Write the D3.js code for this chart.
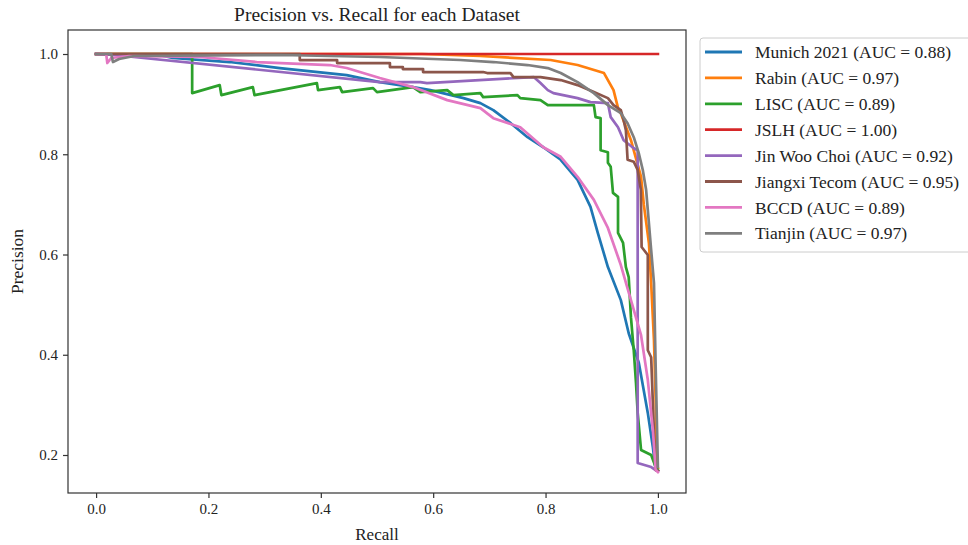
<!DOCTYPE html>
<html>
<head>
<meta charset="utf-8">
<script src="https://cdn.jsdelivr.net/npm/d3@7"></script>
<style>
  body { margin: 0; background: #fff; }
  text { font-family: "Liberation Serif", "DejaVu Serif", serif; fill: #222; }
</style>
</head>
<body>
<script>
// series: [recall, precision] pairs
var munich = [[0,1],[0.1125,0.998],[0.136,0.992],[0.2375,0.984],[0.327,0.972],[0.446,0.958],[0.505,0.944],[0.564,0.934],[0.595,0.928],[0.654,0.912],[0.684,0.902],[0.707,0.888],[0.738,0.862],[0.768,0.834],[0.796,0.814],[0.827,0.789],[0.857,0.749],[0.880,0.695],[0.893,0.643],[0.911,0.575],[0.934,0.509],[0.948,0.443],[0.966,0.384],[0.982,0.284],[0.991,0.216],[0.996,0.170],[1.0,0.168]];
var rabin = [[0,1],[0.58,1.0],[0.684,0.996],[0.809,0.988],[0.857,0.978],[0.904,0.962],[0.921,0.928],[0.930,0.888],[0.934,0.882],[0.952,0.828],[0.970,0.755],[0.975,0.699],[0.984,0.623],[0.988,0.543],[0.993,0.429],[0.996,0.310],[0.998,0.180],[1.0,0.174]];
var lisc = [[0,1],[0.171,1.0],[0.171,0.922],[0.220,0.938],[0.223,0.918],[0.279,0.934],[0.282,0.918],[0.393,0.942],[0.395,0.928],[0.434,0.934],[0.438,0.924],[0.493,0.932],[0.500,0.924],[0.564,0.934],[0.577,0.924],[0.625,0.928],[0.636,0.918],[0.684,0.922],[0.689,0.914],[0.750,0.918],[0.755,0.912],[0.791,0.908],[0.804,0.898],[0.886,0.898],[0.889,0.874],[0.898,0.872],[0.898,0.808],[0.911,0.804],[0.911,0.783],[0.916,0.775],[0.920,0.723],[0.929,0.715],[0.929,0.643],[0.938,0.623],[0.943,0.575],[0.948,0.555],[0.952,0.475],[0.957,0.409],[0.961,0.344],[0.964,0.284],[0.970,0.210],[0.988,0.200],[0.996,0.176],[1.0,0.170]];
var jslh = [[0,1],[1,1]];
var jinWooChoi = [[0,1],[0.032,0.998],[0.505,0.944],[0.577,0.944],[0.589,0.942],[0.779,0.954],[0.791,0.942],[0.804,0.928],[0.814,0.922],[0.857,0.912],[0.880,0.904],[0.911,0.902],[0.916,0.874],[0.929,0.854],[0.939,0.828],[0.957,0.812],[0.964,0.808],[0.964,0.184],[0.988,0.176],[0.996,0.170],[1.0,0.168]];
var jiangxi = [[0,1],[0.3625,1.0],[0.3625,0.988],[0.429,0.988],[0.429,0.982],[0.523,0.982],[0.523,0.974],[0.546,0.974],[0.546,0.970],[0.582,0.970],[0.582,0.964],[0.689,0.964],[0.696,0.962],[0.7375,0.962],[0.743,0.954],[0.791,0.954],[0.827,0.948],[0.857,0.938],[0.886,0.924],[0.911,0.912],[0.921,0.898],[0.934,0.888],[0.939,0.868],[0.943,0.848],[0.946,0.789],[0.957,0.785],[0.964,0.769],[0.9696,0.729],[0.971,0.615],[0.982,0.599],[0.982,0.409],[0.988,0.395],[0.993,0.244],[0.996,0.170],[1.0,0.168]];
var bccd = [[0,1],[0.018,1.0],[0.020,0.982],[0.027,0.992],[0.059,0.996],[0.184,0.994],[0.286,0.984],[0.416,0.978],[0.446,0.972],[0.505,0.952],[0.564,0.934],[0.625,0.908],[0.684,0.892],[0.707,0.872],[0.755,0.854],[0.796,0.814],[0.827,0.795],[0.857,0.755],[0.886,0.709],[0.911,0.653],[0.934,0.579],[0.952,0.509],[0.970,0.439],[0.982,0.350],[0.991,0.250],[0.996,0.170],[1.0,0.166]];
var tianjin = [[0,1],[0.027,1.0],[0.030,0.984],[0.041,0.990],[0.068,0.996],[0.327,0.998],[0.505,0.994],[0.648,0.988],[0.707,0.984],[0.768,0.978],[0.804,0.972],[0.827,0.962],[0.857,0.944],[0.886,0.922],[0.911,0.898],[0.934,0.882],[0.946,0.862],[0.957,0.834],[0.966,0.802],[0.973,0.769],[0.979,0.729],[0.982,0.689],[0.988,0.609],[0.993,0.543],[0.996,0.376],[1.0,0.176]];

var labels = ["Munich 2021 (AUC = 0.88)", "Rabin (AUC = 0.97)", "LISC (AUC = 0.89)", "JSLH (AUC = 1.00)",
    "Jin Woo Choi (AUC = 0.92)", "Jiangxi Tecom (AUC = 0.95)", "BCCD (AUC = 0.89)", "Tianjin (AUC = 0.97)"];
var allSeries = [munich, rabin, lisc, jslh, jinWooChoi, jiangxi, bccd, tianjin];
var colors = ["#1f77b4", "#ff7f0e", "#2ca02c", "#d62728", "#9467bd", "#8c564b", "#e377c2", "#7f7f7f"];
var xTicks = [0, 0.2, 0.4, 0.6, 0.8, 1.0];
var yTicks = [0.2, 0.4, 0.6, 0.8, 1.0];

var W = 968, H = 545;
var box = { left: 68, right: 686, top: 30, bottom: 493 };

var svg = d3.select("body").append("svg")
    .attr("width", W)
    .attr("height", H);

var x = d3.scaleLinear().domain([-0.05, 1.05]).range([box.left, box.right]);
var y = d3.scaleLinear().domain([0.1242, 1.0479]).range([box.bottom, box.top]);

var line = d3.line()
    .x(function(d) { return x(d[0]); })
    .y(function(d) { return y(d[1]); });

svg.append("g")
    .selectAll("path")
    .data(allSeries)
    .enter().append("path")
        .attr("d", line)
        .attr("fill", "none")
        .attr("stroke", function(d, i) { return colors[i]; })
        .attr("stroke-width", 2.7)
        .attr("stroke-linejoin", "round")
        .attr("stroke-linecap", "square");

// frame
svg.append("rect")
    .attr("x", box.left)
    .attr("y", box.top)
    .attr("width", box.right - box.left)
    .attr("height", box.bottom - box.top)
    .attr("fill", "none")
    .attr("stroke", "#333")
    .attr("stroke-width", 1.2);

var xAxis = svg.append("g")
    .attr("transform", "translate(0," + box.bottom + ")")
    .call(d3.axisBottom(x).tickValues(xTicks).tickFormat(d3.format(".1f")).tickSize(5).tickPadding(5));
var yAxis = svg.append("g")
    .attr("transform", "translate(" + box.left + ",0)")
    .call(d3.axisLeft(y).tickValues(yTicks).tickFormat(d3.format(".1f")).tickSize(5).tickPadding(5));

[xAxis, yAxis].forEach(function(g) {
    g.select(".domain").remove();
    g.selectAll(".tick line").attr("stroke", "#333").attr("stroke-width", 1.2);
    g.selectAll(".tick text")
        .style("font-family", "'Liberation Serif', serif")
        .style("font-size", "15px")
        .attr("fill", "#222"); });

svg.append("text")
    .attr("x", (box.left + box.right) / 2)
    .attr("y", 21)
    .attr("text-anchor", "middle")
    .style("font-size", "19.5px")
    .text("Precision vs. Recall for each Dataset");

svg.append("text")
    .attr("x", (box.left + box.right) / 2)
    .attr("y", 540)
    .attr("text-anchor", "middle")
    .style("font-size", "17px")
    .text("Recall");

svg.append("text")
    .attr("transform", "translate(23," + (box.top + box.bottom) / 2 + ") rotate(-90)")
    .attr("text-anchor", "middle")
    .style("font-size", "17.5px")
    .text("Precision");

// legend
var legend = svg.append("g").attr("transform", "translate(700,38)");
legend.append("rect")
    .attr("width", 280)
    .attr("height", 214)
    .attr("rx", 3)
    .attr("fill", "#fff")
    .attr("stroke", "#ccc");

var item = legend.selectAll("g.item")
    .data(labels)
    .enter().append("g")
        .attr("class", "item")
        .attr("transform", function(d, i) { return "translate(0," + (14 + i * 25.9) + ")"; });
item.append("line")
    .attr("x1", 5).attr("x2", 42)
    .attr("stroke", function(d, i) { return colors[i]; })
    .attr("stroke-width", 2.8);
item.append("text")
    .attr("x", 55)
    .attr("dy", "0.35em")
    .style("font-size", "17.5px")
    .text(function(d) { return d; });
</script>
</body>
</html>
